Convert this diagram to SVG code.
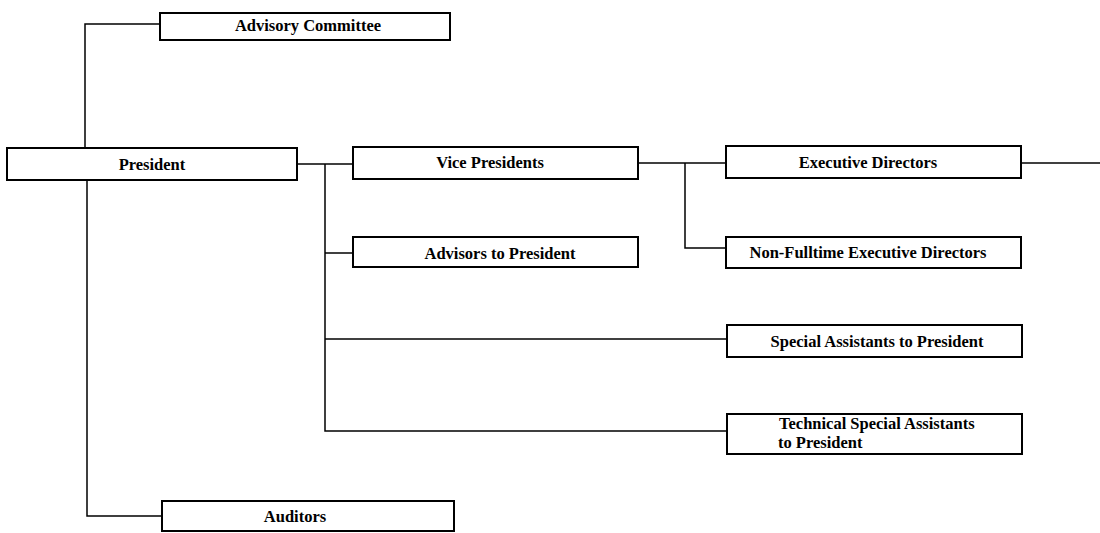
<svg xmlns="http://www.w3.org/2000/svg" width="1100" height="533" viewBox="0 0 1100 533">
<style>
.box{fill:#fff;stroke:#000;stroke-width:2}
.ln{fill:none;stroke:#000;stroke-width:1.5}
text{font-family:"Liberation Serif","Times New Roman",serif;font-weight:bold;font-size:16.5px;fill:#000}
.c{text-anchor:middle}
</style>
<rect width="1100" height="533" fill="#fff"/>
<g id="connectors">
<polyline class="ln" points="160,24 85,24 85,148"/>
<polyline class="ln" points="87,180 87,516 162,516"/>
<line class="ln" x1="297" y1="164" x2="353" y2="164"/>
<polyline class="ln" points="325,164 325,431 727,431"/>
<line class="ln" x1="325" y1="253" x2="353" y2="253"/>
<line class="ln" x1="325" y1="339" x2="727" y2="339"/>
<line class="ln" x1="638" y1="163" x2="726" y2="163"/>
<polyline class="ln" points="685,163 685,248 726,248"/>
<line class="ln" x1="1021" y1="163" x2="1100" y2="163"/>
</g>
<g id="advisory-committee"><rect class="box" x="160" y="13" width="290" height="27"/><text class="c" x="308" y="31">Advisory Committee</text></g>
<g id="president"><rect class="box" x="7" y="148" width="290" height="32"/><text class="c" x="152" y="170">President</text></g>
<g id="vice-presidents"><rect class="box" x="353" y="147" width="285" height="32"/><text class="c" x="490" y="168">Vice Presidents</text></g>
<g id="advisors"><rect class="box" x="353" y="237" width="285" height="30"/><text class="c" x="500" y="259">Advisors to President</text></g>
<g id="executive-directors"><rect class="box" x="726" y="146" width="295" height="32"/><text class="c" x="868" y="168">Executive Directors</text></g>
<g id="non-fulltime"><rect class="box" x="726" y="237" width="295" height="31"/><text class="c" x="868" y="258">Non-Fulltime Executive Directors</text></g>
<g id="special-assistants"><rect class="box" x="727" y="325" width="295" height="32"/><text class="c" x="877" y="347">Special Assistants to President</text></g>
<g id="technical"><rect class="box" x="727" y="414" width="295" height="40"/><text x="779" y="429">Technical Special Assistants</text><text x="778" y="448">to President</text></g>
<g id="auditors"><rect class="box" x="162" y="501" width="292" height="30"/><text class="c" x="295" y="522">Auditors</text></g>
</svg>
